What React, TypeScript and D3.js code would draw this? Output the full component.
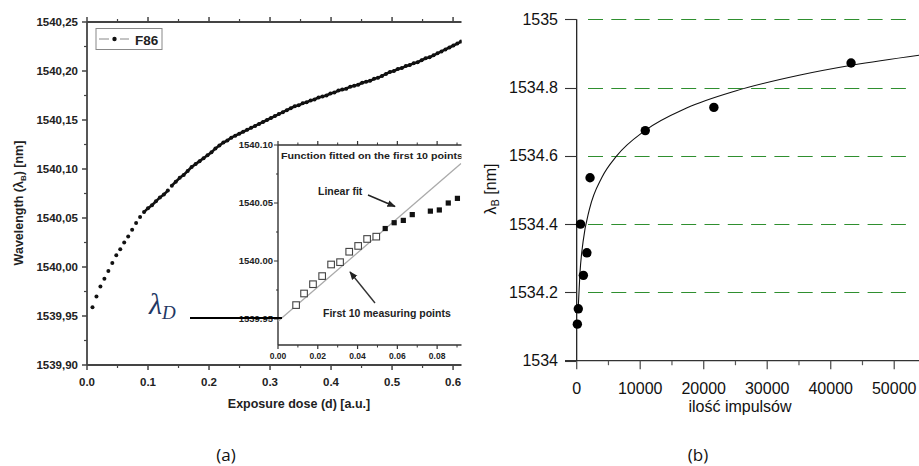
import React from "react";
import * as d3 from "d3";

// ---- panel (a): F86, Bragg wavelength vs exposure dose ----
const doseF86 = [
  0.009, 0.0155, 0.022, 0.0285, 0.035, 0.0415, 0.048, 0.0545, 0.061, 0.0675,
  0.074, 0.0805, 0.087, 0.0935, 0.1, 0.1065, 0.113, 0.1195, 0.126, 0.1325,
  0.139, 0.1455, 0.152, 0.1585, 0.165, 0.1715, 0.178, 0.1845, 0.191, 0.1975,
  0.204, 0.2105, 0.217, 0.2235, 0.23, 0.2365, 0.243, 0.2495, 0.256, 0.2625,
  0.269, 0.2755, 0.282, 0.2885, 0.295, 0.3015, 0.308, 0.3145, 0.321, 0.3275,
  0.334, 0.3405, 0.347, 0.3535, 0.36, 0.3665, 0.373, 0.3795, 0.386, 0.3925,
  0.399, 0.4055, 0.412, 0.4185, 0.425, 0.4315, 0.438, 0.4445, 0.451, 0.4575,
  0.464, 0.4705, 0.477, 0.4835, 0.49, 0.4965, 0.503, 0.5095, 0.516, 0.5225,
  0.529, 0.5355, 0.542, 0.5485, 0.555, 0.5615, 0.568, 0.5745, 0.581, 0.5875,
  0.594, 0.6005, 0.607, 0.613,
];
const wavelengthF86 = [
  1539.959, 1539.97, 1539.98, 1539.988, 1539.996, 1540.004, 1540.012, 1540.018, 1540.025, 1540.031,
  1540.038, 1540.045, 1540.051, 1540.056, 1540.06, 1540.063, 1540.067, 1540.071, 1540.074, 1540.078,
  1540.083, 1540.087, 1540.091, 1540.094, 1540.098, 1540.102, 1540.105, 1540.108, 1540.111, 1540.114,
  1540.117, 1540.121, 1540.124, 1540.127, 1540.129, 1540.132, 1540.134, 1540.136, 1540.138, 1540.14,
  1540.142, 1540.144, 1540.146, 1540.148, 1540.15, 1540.152, 1540.154, 1540.156, 1540.158, 1540.16,
  1540.162, 1540.164, 1540.165, 1540.167, 1540.168, 1540.17, 1540.171, 1540.173, 1540.174, 1540.175,
  1540.177, 1540.178, 1540.18, 1540.181, 1540.182, 1540.184, 1540.185, 1540.186, 1540.188, 1540.189,
  1540.19, 1540.192, 1540.193, 1540.195, 1540.197, 1540.199, 1540.2, 1540.202, 1540.203, 1540.205,
  1540.206, 1540.208, 1540.209, 1540.211, 1540.213, 1540.214, 1540.216, 1540.218, 1540.22, 1540.222,
  1540.224, 1540.226, 1540.228, 1540.23,
];

// inset: first 10 points (open) and the following ones (filled)
const insetOpenDose = [0.0091, 0.0131, 0.0176, 0.0222, 0.0267, 0.0312, 0.0358, 0.0403, 0.0448, 0.0494];
const insetOpenWl = [1539.962, 1539.972, 1539.98, 1539.987, 1539.997, 1539.999, 1540.008, 1540.013, 1540.019, 1540.021];
const insetFilledDose = [0.0539, 0.0584, 0.063, 0.0675, 0.0766, 0.0811, 0.0856, 0.0902];
const insetFilledWl = [1540.028, 1540.033, 1540.035, 1540.04, 1540.043, 1540.044, 1540.05, 1540.054];
const linearFitDose = [0, 0.092];
const linearFitWl = [1539.948, 1540.084];

const aYTicks = [1539.9, 1539.95, 1540.0, 1540.05, 1540.1, 1540.15, 1540.2, 1540.25];
const aXTicks = [0, 0.1, 0.2, 0.3, 0.4, 0.5, 0.6];
const insetYTicks = [1539.95, 1540.0, 1540.05, 1540.1];
const insetXTicks = [0, 0.02, 0.04, 0.06, 0.08];

// ---- panel (b): lambda_B vs number of pulses ----
const pulses = [100, 250, 600, 1050, 1600, 2100, 10800, 21600, 43200];
const lambdaB = [1534.107, 1534.152, 1534.4, 1534.25, 1534.316, 1534.536, 1534.674, 1534.742, 1534.872];
const fitPulses = [250, 500, 1000, 2000, 4000, 6300, 10750, 17300, 25000, 35000, 43500, 54000];
const fitLambda = [1534.158, 1534.253, 1534.348, 1534.443, 1534.538, 1534.6, 1534.674, 1534.74, 1534.79, 1534.836, 1534.866, 1534.895];

const bYTicks = [1534, 1534.2, 1534.4, 1534.6, 1534.8, 1535];
const bXTicks = [0, 10000, 20000, 30000, 40000, 50000];

const fontA = "'Liberation Sans', Arial, sans-serif";

function mids(t: number[]) {
  return d3.pairs(t).map(([a, b]) => (a + b) / 2);
}

export default function App() {
  // scales, panel (a)
  const ax = d3.scaleLinear().domain([0, 0.613]).range([87, 461]);
  const ay = d3.scaleLinear().domain([1539.9, 1540.25]).range([365, 22]);
  const ix = d3.scaleLinear().domain([0, 0.092]).range([278, 461]);
  const iy = d3.scaleLinear().domain([1539.9276, 1540.1]).range([345, 145]);
  // scales, panel (b)
  const bx = d3.scaleLinear().domain([0, 53900]).range([576.7, 919]);
  const by = d3.scaleLinear().domain([1534, 1535]).range([360.7, 19.3]);

  const fitA = d3.line<number>().x((d, i) => ix(linearFitDose[i])).y((d) => iy(d));
  const fitB = d3.line<number>().x((d, i) => bx(fitPulses[i])).y((d) => by(d)).curve(d3.curveMonotoneX);

  const commaFmt = (v: number) => d3.format(".2f")(v).replace(".", ",");
  const [x0, x1] = ax.range();
  const [y0, y1] = ay.range();

  // neighbouring measurements that sit close together merge into a thick trace
  const pts = wavelengthF86.map((v, i) => [ax(doseF86[i]), ay(v)] as [number, number]);
  const joins = d3.pairs(pts).filter(([a, b]) => Math.hypot(b[0] - a[0], b[1] - a[1]) < 5.6);

  const snap = (v: number) => Math.round(v) + 0.5;

  return (
    <svg width={919} height={466} style={{ position: "absolute", left: 0, top: 0, background: "#fff" }}>
      <defs>
        <clipPath id="clipA">
          <rect x={0} y={0} width={461.5} height={466} />
        </clipPath>
        <marker id="arr" viewBox="0 0 10 10" refX="9" refY="5" markerWidth="6" markerHeight="6" orient="auto">
          <path d="M0,1 L10,5 L0,9 z" fill="#222" />
        </marker>
      </defs>

      {/* ================= panel (a) ================= */}
      <g clipPath="url(#clipA)" fontFamily={fontA} fontWeight="bold" fill="#222">
        {/* frame */}
        <line x1={x0} x2={x1 + 2} y1={y0} y2={y0} stroke="#444" strokeWidth={1.8} />
        <line x1={x0} x2={x1 + 2} y1={y1} y2={y1} stroke="#444" strokeWidth={1.8} />
        <line x1={x0} x2={x0} y1={y0} y2={y1} stroke="#444" strokeWidth={1.8} />

        {/* y ticks */}
        {aYTicks.map((t) => (
          <g key={"ay" + t}>
            <line x1={x0 - 5} x2={x0} y1={ay(t)} y2={ay(t)} stroke="#444" strokeWidth={1.5} />
            <text x={78} y={ay(t)} dy="0.35em" textAnchor="end" fontSize={11.5}>
              {commaFmt(t)}
            </text>
          </g>
        ))}
        {mids(aYTicks).map((t) => (
          <line key={"aym" + t} x1={x0 - 3} x2={x0} y1={ay(t)} y2={ay(t)} stroke="#444" strokeWidth={1.2} />
        ))}

        {/* x ticks bottom + top */}
        {aXTicks.map((t) => (
          <g key={"ax" + t}>
            <line x1={ax(t)} x2={ax(t)} y1={y0} y2={y0 + 5} stroke="#444" strokeWidth={1.5} />
            <line x1={ax(t)} x2={ax(t)} y1={y1} y2={y1 - 5} stroke="#444" strokeWidth={1.5} />
            <text x={ax(t)} y={386} textAnchor="middle" fontSize={11.5}>
              {d3.format(".1f")(t)}
            </text>
          </g>
        ))}
        {mids(aXTicks).map((t) => (
          <g key={"axm" + t}>
            <line x1={ax(t)} x2={ax(t)} y1={y0} y2={y0 + 3} stroke="#444" strokeWidth={1.2} />
            <line x1={ax(t)} x2={ax(t)} y1={y1} y2={y1 - 3} stroke="#444" strokeWidth={1.2} />
          </g>
        ))}

        {/* axis titles */}
        <text x={299} y={408} textAnchor="middle" fontSize={12.5}>
          Exposure dose (d) [a.u.]
        </text>
        <text transform="translate(23,203) rotate(-90)" textAnchor="middle" fontSize={12.5}>
          Wavelength (λ<tspan fontSize={8} dy={3}>B</tspan>
          <tspan dy={-3}>) [nm]</tspan>
        </text>

        {/* legend */}
        <rect x={96} y={28.5} width={66} height={21} fill="#fff" stroke="#888" strokeWidth={1} />
        <line x1={99} x2={109} y1={39} y2={39} stroke="#888" strokeWidth={1} />
        <line x1={120} x2={129} y1={39} y2={39} stroke="#888" strokeWidth={1} />
        <circle cx={114.5} cy={39} r={2.2} fill="#111" />
        <text x={135} y={45} fontSize={13.5}>
          F86
        </text>

        {/* F86 series */}
        {joins.map(([a, b], i) => (
          <line key={"j" + i} x1={a[0]} y1={a[1]} x2={b[0]} y2={b[1]} stroke="#111" strokeWidth={2.6} strokeLinecap="round" />
        ))}
        {pts.map((p, i) => (
          <circle key={"p" + i} cx={p[0]} cy={p[1]} r={2} fill="#111" />
        ))}

        {/* ---- inset ---- */}
        <rect x={278} y={145} width={190} height={200} fill="#fff" />
        <line x1={278} x2={470} y1={145} y2={145} stroke="#333" strokeWidth={1.4} />
        <line x1={278} x2={470} y1={345} y2={345} stroke="#333" strokeWidth={1.4} />
        <line x1={278} x2={278} y1={145} y2={345} stroke="#333" strokeWidth={1.4} />
        {insetYTicks.map((t) => (
          <g key={"iy" + t}>
            <line x1={274} x2={278} y1={iy(t)} y2={iy(t)} stroke="#333" strokeWidth={1.2} />
            <text x={273} y={iy(t)} dy="0.35em" textAnchor="end" fontSize={9.5}>
              {d3.format(".2f")(t)}
            </text>
          </g>
        ))}
        {mids(insetYTicks).map((t) => (
          <line key={"iym" + t} x1={276} x2={278} y1={iy(t)} y2={iy(t)} stroke="#333" strokeWidth={1} />
        ))}
        {insetXTicks.map((t) => (
          <g key={"ix" + t}>
            <line x1={ix(t)} x2={ix(t)} y1={345} y2={349} stroke="#333" strokeWidth={1.2} />
            <line x1={ix(t)} x2={ix(t)} y1={145} y2={141} stroke="#333" strokeWidth={1.2} />
            <text x={ix(t)} y={358.5} textAnchor="middle" fontSize={8.5}>
              {d3.format(".2f")(t)}
            </text>
          </g>
        ))}
        {[...mids(insetXTicks), 0.09].map((t) => (
          <g key={"ixm" + t}>
            <line x1={ix(t)} x2={ix(t)} y1={345} y2={347.5} stroke="#333" strokeWidth={1} />
            <line x1={ix(t)} x2={ix(t)} y1={145} y2={142.5} stroke="#333" strokeWidth={1} />
          </g>
        ))}
        <text x={281} y={158.5} fontSize={9.5} textLength={182} lengthAdjust="spacingAndGlyphs">
          Function fitted on the first 10 points
        </text>

        {/* linear fit */}
        <path d={fitA(linearFitWl) ?? ""} fill="none" stroke="#aaa" strokeWidth={1.3} />
        {insetOpenWl.map((v, i) => (
          <rect
            key={"o" + i}
            x={ix(insetOpenDose[i]) - 3.3}
            y={iy(v) - 3.3}
            width={6.6}
            height={6.6}
            fill="#fff"
            stroke="#444"
            strokeWidth={1.1}
          />
        ))}
        {insetFilledWl.map((v, i) => (
          <rect key={"f" + i} x={ix(insetFilledDose[i]) - 2.6} y={iy(v) - 2.6} width={5.2} height={5.2} fill="#111" />
        ))}

        <text x={318} y={194.5} fontSize={10.5}>
          Linear fit
        </text>
        <line x1={368} y1={195} x2={395} y2={206.5} stroke="#222" strokeWidth={1.4} markerEnd="url(#arr)" />
        <text x={323} y={316.5} fontSize={10.5}>
          First 10 measuring points
        </text>
        <line x1={375} y1={303} x2={350} y2={272} stroke="#333" strokeWidth={1.4} markerEnd="url(#arr)" />
      </g>

      {/* lambda_D marker */}
      <line x1={190} x2={282} y1={318} y2={318} stroke="#000" strokeWidth={2.2} />
      <text x={149} y={314} fontFamily="'Liberation Serif', 'DejaVu Serif', serif" fontStyle="italic" fill="#1f3864">
        <tspan fontSize={30}>λ</tspan>
        <tspan fontSize={19} dy={5}>
          D
        </tspan>
      </text>

      {/* ================= panel (b) ================= */}
      <g fontFamily={fontA} fill="#111">
        {bYTicks.filter((t) => t > 1534).map((t) => (
          <line
            key={"g" + t}
            x1={588}
            x2={908}
            y1={snap(by(t))}
            y2={snap(by(t))}
            stroke="#2f8f2f"
            strokeWidth={1}
            strokeDasharray="15 8.3"
          />
        ))}
        <line x1={565} x2={919} y1={by(1534)} y2={by(1534)} stroke="#333" strokeWidth={1.3} />
        <line x1={bx(0)} x2={bx(0)} y1={by(1535)} y2={by(1534)} stroke="#111" strokeWidth={1.2} />
        {bYTicks.map((t) => (
          <g key={"by" + t}>
            <line x1={565} x2={bx(0)} y1={snap(by(t))} y2={snap(by(t))} stroke="#333" strokeWidth={1.1} />
            <text x={558} y={by(t)} dy="0.35em" textAnchor="end" fontSize={16}>
              {d3.format("")(t)}
            </text>
          </g>
        ))}
        {bXTicks.map((t) => (
          <g key={"bx" + t}>
            <line x1={bx(t)} x2={bx(t)} y1={by(1534)} y2={by(1534) + 8.5} stroke="#555" strokeWidth={1.3} />
            <text x={bx(t)} y={393.5} textAnchor="middle" fontSize={16}>
              {t}
            </text>
          </g>
        ))}
        {mids(bXTicks).map((t) => (
          <line key={"bxm" + t} x1={bx(t)} x2={bx(t)} y1={by(1534)} y2={by(1534) + 4.5} stroke="#555" strokeWidth={1.2} />
        ))}

        <path d={fitB(fitLambda) ?? ""} fill="none" stroke="#111" strokeWidth={1.1} />
        {lambdaB.map((v, i) => (
          <circle key={"b" + i} cx={bx(pulses[i])} cy={by(v)} r={4.7} fill="#000" />
        ))}

        <text x={740} y={412} textAnchor="middle" fontSize={16}>
          ilość impulsów
        </text>
        <text transform="translate(496,189) rotate(-90)" textAnchor="middle" fontSize={16}>
          λ<tspan fontSize={11} dy={3}>B</tspan>
          <tspan dy={-3}> [nm]</tspan>
        </text>
      </g>

      {/* panel captions */}
      <g fontFamily="'Open Sans', 'Noto Sans', sans-serif" fontSize={17} fill="#111" textAnchor="middle">
        <text x={226} y={461}>
          (a)
        </text>
        <text x={698} y={461}>
          (b)
        </text>
      </g>
    </svg>
  );
}
